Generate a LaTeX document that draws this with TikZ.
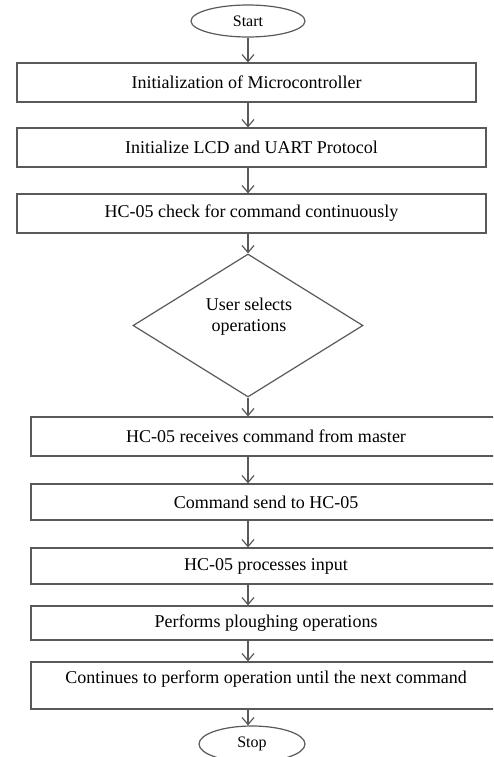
\documentclass[tikz,border=0pt]{standalone}
\usepackage{fontspec}
\setmainfont{Liberation Serif}
\usetikzlibrary{shapes.geometric,arrows.meta}
\tikzset{
  ln/.style={draw=black!65, line width=1.2pt},
  box/.style={ln, rectangle, inner sep=0pt, font=\fontsize{18}{21}\selectfont},
  term/.style={ln, ellipse, inner sep=0pt, font=\fontsize{16}{19}\selectfont},
  dec/.style={ln, diamond, inner sep=0pt},
  arr/.style={ln, -{Straight Barb[length=7pt,width=12pt,line width=1.2pt]}},
}
\begin{document}
\begin{tikzpicture}[x=1pt,y=-1pt]
\useasboundingbox (0,0) rectangle (493,757);
\clip (0,0) rectangle (493,757);
\coordinate (spine) at (248,0);
\node[term, minimum width=114pt, minimum height=32pt] (start) at (248,21) {Start};
\node[box, minimum width=459pt, minimum height=39pt] (b1) at (246.5,82.5) {Initialization of Microcontroller};
\node[box, minimum width=469pt, minimum height=39pt] (b2) at (251.5,147.5) {Initialize LCD and UART Protocol};
\node[box, minimum width=469pt, minimum height=39pt] (b3) at (251.5,213.5) {HC-05 check for command continuously};
\node[dec, minimum width=230pt, minimum height=143pt] (d) at (248,325.5) {};
\node[font=\fontsize{18}{21}\selectfont, align=center, inner sep=0pt] (dt) at (249,317) {User selects\\operations};
\node[box, minimum width=470pt, minimum height=39pt] (b4) at (266,436.5) {HC-05 receives command from master};
\node[box, minimum width=470pt, minimum height=36pt] (b5) at (266,502) {Command send to HC-05};
\node[box, minimum width=470pt, minimum height=36pt] (b6) at (266,566) {HC-05 processes input};
\node[box, minimum width=470pt, minimum height=34pt] (b7) at (266,623) {Performs ploughing operations};
\node[box, minimum width=470pt, minimum height=47pt, text height=12pt, text depth=17pt] (b8) at (266,685.5) {Continues to perform operation until the next command};
\node[term, minimum width=106pt, minimum height=36pt] (stop) at (252,744) {Stop};
\draw[arr] (spine |- start.south) -- (spine |- b1.north);
\draw[arr] (spine |- b1.south) -- (spine |- b2.north);
\draw[arr] (spine |- b2.south) -- (spine |- b3.north);
\draw[arr] (spine |- b3.south) -- (d.north);
\draw[arr] (d.south) -- (spine |- b4.north);
\draw[arr] (spine |- b4.south) -- (spine |- b5.north);
\draw[arr] (spine |- b5.south) -- (spine |- b6.north);
\draw[arr] (spine |- b6.south) -- (spine |- b7.north);
\draw[arr] (spine |- b7.south) -- (spine |- b8.north);
\draw[arr] (spine |- b8.south) -- (spine |- stop.north);
\end{tikzpicture}
\end{document}
